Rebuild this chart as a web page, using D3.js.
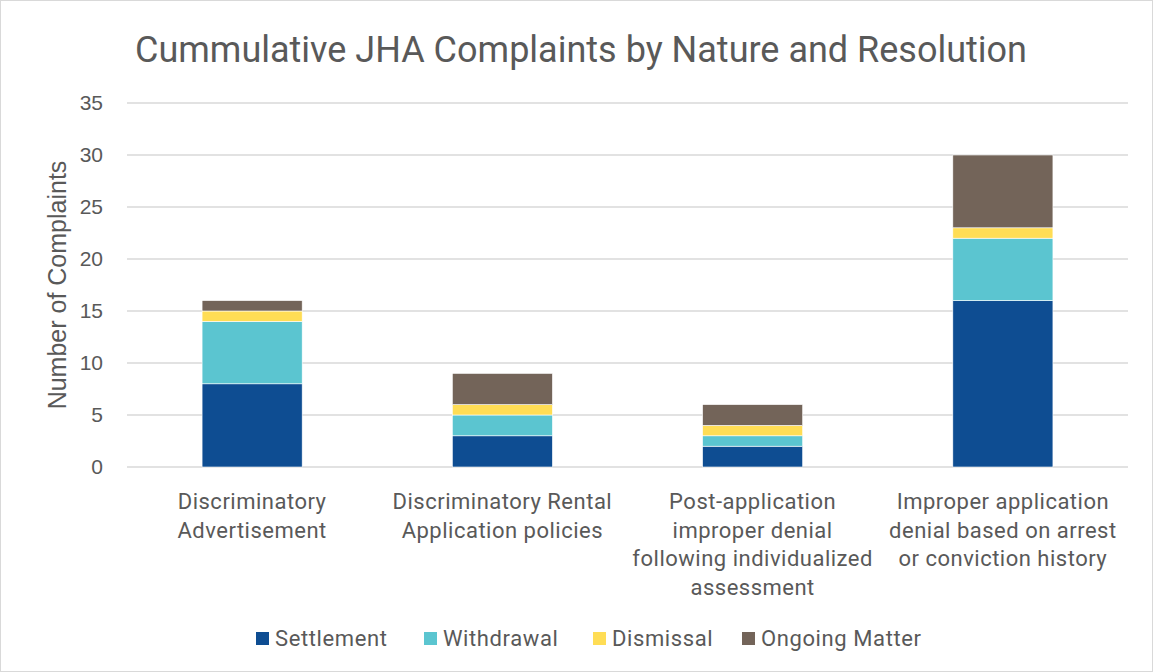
<!DOCTYPE html>
<html><head><meta charset="utf-8">
<script src="https://cdn.jsdelivr.net/npm/d3@7"></script>
<style>body{margin:0;background:#fff}svg{display:block}</style>
</head><body>
<svg id="c" width="1153" height="672"></svg>
<script>
const categories = [
  ["Discriminatory", "Advertisement"],
  ["Discriminatory Rental", "Application policies"],
  ["Post-application", "improper denial", "following individualized", "assessment"],
  ["Improper application", "denial based on arrest", "or conviction history"]
];
const seriesNames = ["Settlement", "Withdrawal", "Dismissal", "Ongoing Matter"];
const settlement = [8, 3, 2, 16];
const withdrawal = [6, 2, 1, 6];
const dismissal = [1, 1, 1, 1];
const ongoing = [1, 3, 2, 7];
const colors = ["#0E4D92", "#5BC5D0", "#FFDD55", "#736459"];
const yTicks = [0, 5, 10, 15, 20, 25, 30, 35];
const title = "Cummulative JHA Complaints by Nature and Resolution";
const yTitle = "Number of Complaints";

const svg = d3.select("#c");
const W = 1153, H = 672;
const m = {left: 127, right: 25, top: 103, bottom: 205};
const textColor = "#595959";
const font = "Roboto, 'Noto Sans', sans-serif";
const arial = "'Liberation Sans', Arial, sans-serif";

svg.append("rect").attr("x", 0.5).attr("y", 0.5).attr("width", W - 1).attr("height", H - 1)
  .attr("fill", "#fff").attr("stroke", "#d9d9d9");

const idx = categories.map((d, i) => i);
const x = d3.scaleBand().domain(idx).range([m.left, W - m.right]).paddingInner(0.6).paddingOuter(0.3);
const y = d3.scaleLinear().domain([0, 35]).range([H - m.bottom, m.top]);

// gridlines
svg.append("g").selectAll("line").data(yTicks).join("line")
  .attr("x1", m.left).attr("x2", W - m.right)
  .attr("y1", d => y(d)).attr("y2", d => y(d))
  .attr("stroke", "#d9d9d9").attr("stroke-width", 1.3);

// y axis
const yAxis = d3.axisLeft(y).tickValues(yTicks).tickSize(0).tickPadding(0);
const gy = svg.append("g").attr("transform", `translate(${m.left - 24},0)`).call(yAxis);
gy.select(".domain").remove();
gy.selectAll("text").attr("fill", textColor).style("font-family", arial).style("font-size", "21px");

// stacked bars
const rows = idx.map(i => ({i, Settlement: settlement[i], Withdrawal: withdrawal[i], Dismissal: dismissal[i], "Ongoing Matter": ongoing[i]}));
const stack = d3.stack().keys(seriesNames)(rows);
svg.append("g").selectAll("g").data(stack).join("g")
  .attr("fill", (d, k) => colors[k])
  .selectAll("rect").data(d => d).join("rect")
  .attr("x", d => x(d.data.i)).attr("width", x.bandwidth())
  .attr("y", d => y(d[1])).attr("height", d => y(d[0]) - y(d[1]))
  .attr("stroke", "#ffffff").attr("stroke-width", 0.6);

// category labels
const xAxis = d3.axisBottom(x).tickSize(0).tickFormat("");
const gx = svg.append("g").attr("transform", `translate(0,${H - m.bottom})`).call(xAxis);
gx.select(".domain").remove();
gx.selectAll(".tick").each(function(d) {
  const t = d3.select(this).append("text").attr("text-anchor", "middle").attr("fill", textColor)
    .style("font-family", font).style("font-size", "22px").style("letter-spacing", "0.5px");
  categories[d].forEach((line, j) => {
    t.append("tspan").attr("x", 0).attr("y", 42 + j * 28.6).text(line);
  });
});

// title
svg.append("text").attr("x", 581).attr("y", 62).attr("text-anchor", "middle")
  .attr("fill", textColor).style("font-family", font).style("font-size", "36px").text(title);

// y title
svg.append("text").attr("transform", `translate(66,285) rotate(-90)`).attr("text-anchor", "middle")
  .attr("fill", textColor).style("font-family", arial).style("font-size", "25px").text(yTitle);

// legend
const legendX = [256, 424, 593, 742];
const lg = svg.append("g").selectAll("g").data(seriesNames).join("g")
  .attr("transform", (d, k) => `translate(${legendX[k]},638.5)`);
lg.append("rect").attr("x", 0).attr("y", -6.5).attr("width", 13).attr("height", 13).attr("fill", (d, k) => colors[k]);
lg.append("text").attr("x", 19).attr("y", 7.5).attr("fill", textColor)
  .style("font-family", font).style("font-size", "22px").style("letter-spacing", "0.6px").text(d => d);
</script>
</body></html>
